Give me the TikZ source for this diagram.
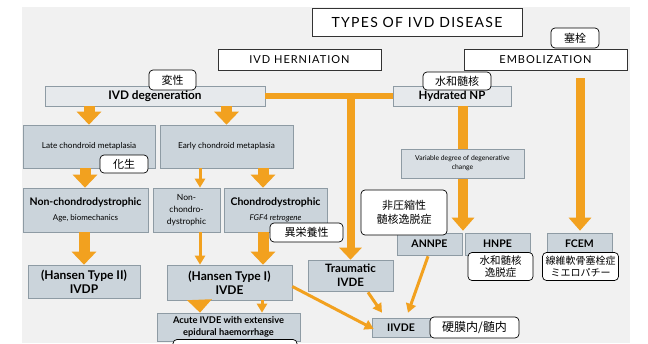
\documentclass[tikz,border=0pt]{standalone}
\usepackage{fontspec}
\setmainfont{Lato}
\newfontfamily\jp{Noto Sans CJK JP}
\newfontfamily\capsf[LetterSpace=9]{Lato}
\usetikzlibrary{arrows.meta,calc}
\definecolor{org}{HTML}{F2A11F}
\definecolor{panel}{HTML}{F1F1F1}
\definecolor{boxfill}{HTML}{CBD4DB}
\definecolor{lightfill}{HTML}{E6E9EC}
\definecolor{varfill}{HTML}{D9DFE4}
\definecolor{boxline}{HTML}{8E9BA4}
\begin{document}
\begin{tikzpicture}[x=1pt,y=-1pt,
  box/.style={draw=boxline, fill=boxfill, line width=0.6pt, inner sep=1pt, align=center},
  lbl/.style={draw=black, fill=white, rounded corners=4pt, line width=0.7pt, inner sep=1pt, align=center, font=\jp\fontsize{11}{13.5}\selectfont},
  hdr/.style={draw=black!80, fill=white, line width=0.9pt, inner sep=1pt},
  bf/.style={font=\bfseries\fontsize{#1}{\fpeval{#1*1.2}}\selectfont},
  rg/.style={font=\fontsize{#1}{\fpeval{#1*1.3}}\selectfont},
  fat/.style={draw=org, line width=11pt, -{Triangle[width=24pt,length=13pt]}},
  thinarr/.style={draw=org, line width=3pt, -{Triangle[width=10pt,length=9pt]}},
  sz/.style 2 args={minimum width=#1pt, minimum height=#2pt}
]
\useasboundingbox (0,0) rectangle (648,343);
\fill[panel] (22,7) rectangle (630,343);

% headers
\node[hdr, sz={210}{28}, font=\capsf\fontsize{14}{16}\selectfont] (title) at (417,22) {TYPES OF IVD DISEASE};
\node[hdr, sz={163}{21}, font=\capsf\fontsize{11}{13}\selectfont] (hern) at (299.5,59.5) {IVD HERNIATION};
\node[hdr, sz={163}{21}, font=\capsf\fontsize{11}{13}\selectfont] (embo) at (545.5,59.5) {EMBOLIZATION};

% boxes
\node[box, fill=lightfill, sz={220}{20}, bf=11.8] (deg) at (155,96) {IVD degeneration};
\node[box, fill=lightfill, sz={118}{20}, bf=11.5] (hyd) at (452,96) {Hydrated NP};
\node[box, sz={132}{43}, rg=8.2] (late) at (89,146.5) {Late chondroid metaplasia};
\node[box, sz={133}{43}, rg=8.2] (early) at (226.5,146.5) {Early chondroid metaplasia};
\node[box, sz={125}{44}] (nonch) at (85.5,210) {{\bfseries\fontsize{10.5}{12.5}\selectfont Non-chondrodystrophic}\\[3pt]{\fontsize{8}{9.5}\selectfont Age, biomechanics}};
\node[box, sz={67}{44}, font=\fontsize{8.5}{12.3}\selectfont] (nonch2) at (186.5,210) {Non-\\chondro-\\dystrophic};
\node[box, sz={103}{44}] (chon) at (275.5,210) {{\bfseries\fontsize{10.5}{12.5}\selectfont Chondrodystrophic}\\[3pt]{\fontsize{8}{9.5}\selectfont\itshape FGF4 retrogene}};
\node[box, sz={112}{33}, bf=12] (ht2) at (84,281.5) {(Hansen Type II)\\IVDP};
\node[box, sz={125}{35}, bf=12] (ht1) at (229.5,282.5) {(Hansen Type I)\\IVDE};
\node[box, sz={85}{31}, bf=11.5] (trau) at (350.5,275.5) {Traumatic\\IVDE};
\node[box, sz={143}{28}, font=\bfseries\fontsize{9.3}{11.3}\selectfont] (acute) at (228.5,327) {Acute IVDE with extensive\\epidural haemorrhage};
\node[box, sz={65}{22}, bf=10.5] (annpe) at (429.5,244) {ANNPE};
\node[box, sz={65}{22}, bf=10.5] (hnpe) at (497.5,244) {HNPE};
\node[box, sz={65}{22}, bf=10.5] (fcem) at (579.5,244) {FCEM};
\node[box, sz={58}{19}, bf=10.5] (iivde) at (401,327.5) {IIVDE};

% connectors
\draw[fat] (deg.south -| late.north) -- (late.north);
\draw[fat] (deg.south -| early.north) -- (early.north);
\draw[fat] ($(late.south)+(-4,0)$) -- ($(nonch.north)+(-0.5,0)$);
\draw[thinarr] ($(early.south)+(-26.5,0)$) -- ($(nonch2.north)+(13.5,0)$);
\draw[fat] ($(early.south)+(36.5,0)$) -- ($(chon.north)+(-12.5,0)$);
\draw[fat] ($(nonch.south)+(-1.5,0)$) -- (ht2.north);
\draw[thinarr] ($(nonch2.south)+(13.5,0)$) -- ($(ht1.north)+(-29.5,0)$);
\draw[fat] ($(chon.south)+(-12.5,0)$) -- ($(ht1.north)+(33.5,0)$);
\draw[fat] ($(ht1.south)+(-30,0)$) -- ($(acute.north)+(-28.5,0)$);
\draw[thinarr] ($(ht1.south)+(32.5,0)$) -- ($(acute.north)+(33.5,0)$);
\draw[draw=org, line width=6pt] (deg.east) -- (hyd.west);
\draw[draw=org, line width=8pt, -{Triangle[width=22pt,length=12pt]}] ($(trau.north |- deg.east)+(0,-3)$) -- (trau.north);
\draw[draw=org, line width=10pt, -{Triangle[width=22pt,length=13pt]}] ($(hyd.south)+(11,0)$) -- ($(annpe.north)+(33.5,-2)$);
\draw[draw=org, line width=9pt, -{Triangle[width=22pt,length=13pt]}] ($(embo.south)+(34.5,8)$) -- ($(fcem.north)+(0.5,-2)$);
\draw[thinarr] ($(ht1.east)+(0,4)$) -- ($(iivde.west)+(2,1.5)$);
\draw[thinarr] ($(trau.south)+(17.5,1)$) -- ($(iivde.north)+(-19,-5)$);
\draw[thinarr] ($(annpe.south)+(-1.5,1)$) -- ($(iivde.north)+(7,-5)$);

% box drawn over the vertical arrow
\node[box, fill=varfill, sz={123}{29}, rg=6.8] (var) at (462.5,163.5) {Variable degree of degenerative\\change};

% labels
\node[lbl, sz={48}{20}] (lblembo) at (575,38) {塞栓};
\node[lbl, sz={47}{20}] (lbldeg) at (172.5,80) {変性};
\node[lbl, sz={68}{18}] (lblhyd) at (457,81) {水和髄核};
\node[lbl, sz={48}{18}] (lbllate) at (124,164) {化生};
\node[lbl, sz={73}{19}] (lblchon) at (306.5,232.5) {異栄養性};
\node[lbl, sz={86}{45}] (lblannpe) at (404,212.5) {非圧縮性\\髄核逸脱症};
\node[lbl, sz={65}{28}, font=\jp\fontsize{10.5}{12.5}\selectfont] (lblhnpe) at (500.5,266.5) {水和髄核\\逸脱症};
\node[lbl, sz={76}{28}, font=\jp\fontsize{10}{12.5}\selectfont] (lblfcem) at (580.5,266.5) {線維軟骨塞栓症\\ミエロパチー};
\node[lbl, sz={89}{21}, font=\jp\fontsize{12}{14}\selectfont] (lbliivde) at (474.5,327.5) {硬膜内/髄内};
\begin{scope}
\clip (0,0) rectangle (648,343);
\node[lbl, sz={124}{21}] (lblacute) at (235,350) {大範囲の硬膜外出血};
\end{scope}
\end{tikzpicture}
\end{document}
